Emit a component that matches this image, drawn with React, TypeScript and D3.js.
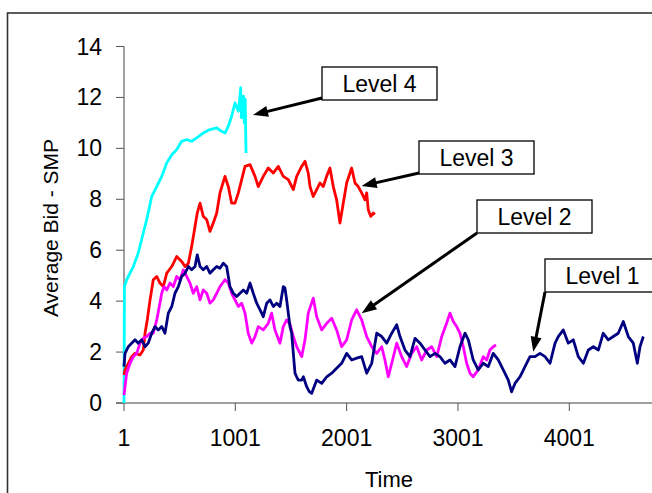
import React from 'react';
import * as d3 from 'd3';

// series: [time, average bid - SMP]
const level4: [number, number][] = [
  [1, 0], [5, 4.57], [25, 4.84], [55, 5.1], [85, 5.36], [129, 5.89], [174, 6.67], [205, 7.2], [250, 8.11],
  [295, 8.5], [340, 8.9], [385, 9.43], [430, 9.75], [474, 9.95], [519, 10.28], [564, 10.34], [609, 10.28],
  [654, 10.41], [713, 10.6], [773, 10.74], [834, 10.8], [878, 10.67], [908, 10.6], [938, 10.87], [968, 11.26],
  [998, 11.79], [1028, 11.46], [1040, 11.9], [1049, 12.38], [1056, 11.2], [1062, 12.0], [1067, 11.39],
  [1075, 12.05], [1082, 11.0], [1090, 11.92], [1097, 9.82],
];

const level3: [number, number][] = [
  [1, 1.1], [10, 1.3], [40, 1.56], [70, 1.82], [100, 1.95], [145, 1.89], [174, 2.08], [190, 2.74], [210, 3.26],
  [235, 4.05], [264, 4.84], [295, 4.97], [324, 4.71], [354, 4.57], [385, 5.1], [430, 5.36], [474, 5.75],
  [519, 5.56], [549, 5.36], [579, 5.49], [609, 6.15], [639, 6.93], [659, 7.46], [684, 7.85], [713, 7.33],
  [744, 7.2], [773, 6.74], [803, 7.07], [834, 7.46], [863, 8.25], [908, 8.9], [938, 8.5], [968, 7.85],
  [998, 7.85], [1028, 8.25], [1058, 8.77], [1088, 9.29], [1133, 9.36], [1178, 8.9], [1207, 8.5], [1252, 8.9],
  [1297, 9.23], [1342, 9.03], [1387, 9.29], [1432, 8.9], [1477, 8.77], [1522, 8.38], [1552, 8.9], [1597, 9.29],
  [1627, 9.49], [1656, 9.03], [1672, 8.5], [1701, 8.11], [1732, 8.38], [1761, 8.64], [1791, 8.5], [1821, 8.9],
  [1851, 9.23], [1881, 8.5], [1911, 7.98], [1941, 7.07], [1971, 7.85], [2001, 8.64], [2046, 9.23], [2076, 8.64],
  [2105, 8.5], [2136, 8.25], [2166, 7.98], [2181, 8.25], [2195, 7.59], [2217, 7.33], [2240, 7.46], [2255, 7.4],
];

const level2: [number, number][] = [
  [1, 0.31], [10, 0.64], [25, 1.17], [55, 1.56], [85, 1.82], [115, 1.95], [145, 2.35], [174, 2.54], [205, 2.61],
  [235, 2.74], [264, 2.74], [295, 3.26], [318, 3.79], [340, 4.31], [360, 4.57], [385, 4.44], [414, 4.71],
  [444, 4.57], [474, 4.97], [504, 4.84], [534, 5.23], [564, 4.97], [594, 4.71], [623, 4.31], [654, 4.57],
  [684, 4.05], [713, 4.44], [744, 4.31], [773, 3.92], [803, 4.05], [834, 4.31], [863, 4.57], [908, 4.84],
  [938, 4.71], [968, 4.31], [998, 4.05], [1028, 3.79], [1058, 3.92], [1088, 3.53], [1117, 2.74], [1148, 2.35],
  [1178, 2.61], [1207, 3.0], [1252, 2.87], [1297, 3.13], [1327, 3.53], [1357, 2.87], [1402, 2.35], [1432, 3.0],
  [1462, 3.26], [1492, 3.1], [1522, 2.61], [1552, 2.21], [1597, 1.82], [1627, 2.48], [1656, 3.53], [1701, 4.12],
  [1732, 3.39], [1777, 2.87], [1822, 3.13], [1867, 3.33], [1911, 2.87], [1956, 2.21], [2001, 2.48], [2046, 3.26],
  [2091, 3.66], [2136, 3.26], [2181, 2.61], [2226, 2.21], [2271, 1.95], [2316, 2.21], [2345, 1.69], [2375, 1.03],
  [2406, 1.56], [2451, 2.35], [2495, 1.82], [2540, 1.43], [2585, 1.95], [2630, 2.21], [2675, 1.69], [2720, 2.08],
  [2765, 2.21], [2810, 1.82], [2855, 2.61], [2899, 3.13], [2929, 3.53], [2959, 3.2], [2989, 3.0], [3019, 2.74],
  [3049, 2.21], [3079, 1.56], [3109, 1.17], [3138, 1.03], [3183, 1.3], [3228, 1.82], [3259, 1.69], [3288, 2.08],
  [3318, 2.21], [3342, 2.28],
];

const level1: [number, number][] = [
  [1, 1.43], [10, 1.95], [40, 2.21], [70, 2.35], [100, 2.48], [129, 2.35], [160, 2.48], [190, 2.21], [219, 2.35],
  [250, 2.74], [279, 3.0], [309, 2.87], [340, 3.0], [369, 2.74], [399, 3.53], [430, 3.79], [459, 4.31],
  [489, 4.57], [519, 4.97], [549, 5.1], [579, 5.36], [609, 5.23], [639, 5.36], [659, 5.82], [684, 5.36],
  [713, 5.23], [744, 5.36], [773, 5.1], [803, 5.23], [834, 5.36], [863, 5.29], [893, 5.49], [923, 5.36],
  [953, 4.57], [983, 4.31], [1013, 4.18], [1043, 4.31], [1073, 4.44], [1103, 4.31], [1133, 4.71], [1162, 4.31],
  [1193, 3.92], [1223, 3.66], [1252, 3.39], [1283, 3.92], [1312, 4.05], [1342, 3.79], [1373, 3.92], [1402, 3.79],
  [1432, 4.57], [1447, 4.51], [1462, 4.05], [1492, 3.0], [1507, 2.74], [1522, 1.95], [1537, 1.17], [1552, 1.03],
  [1567, 0.9], [1597, 0.9], [1612, 1.03], [1642, 0.64], [1665, 0.45], [1687, 0.38], [1732, 0.9], [1777, 0.77],
  [1822, 1.03], [1867, 1.17], [1911, 1.36], [1956, 1.56], [2001, 1.95], [2046, 1.69], [2091, 1.76], [2136, 1.82],
  [2181, 1.17], [2226, 1.56], [2271, 2.74], [2316, 2.61], [2361, 2.35], [2406, 2.74], [2451, 3.07], [2480, 2.61],
  [2525, 2.08], [2570, 1.82], [2615, 2.54], [2660, 2.35], [2705, 2.08], [2750, 1.82], [2795, 1.95], [2839, 1.82],
  [2884, 1.56], [2929, 1.69], [2974, 1.43], [3019, 2.21], [3064, 2.74], [3094, 2.48], [3138, 1.69], [3183, 1.3],
  [3228, 1.56], [3273, 1.43], [3318, 1.95], [3363, 1.69], [3408, 1.3], [3453, 0.9], [3483, 0.44], [3513, 0.77],
  [3558, 1.03], [3603, 1.43], [3648, 1.82], [3693, 1.82], [3738, 1.95], [3783, 1.82], [3828, 1.56], [3873, 2.35],
  [3902, 2.61], [3947, 2.87], [3992, 2.35], [4037, 2.48], [4082, 1.82], [4127, 1.56], [4172, 2.08], [4217, 2.21],
  [4262, 2.08], [4306, 2.74], [4351, 2.48], [4396, 2.61], [4441, 2.74], [4486, 3.2], [4531, 2.61], [4576, 2.35],
  [4612, 1.56], [4636, 2.21], [4666, 2.61],
];

const xTicks = [1, 1001, 2001, 3001, 4001];
const yTicks = [0, 2, 4, 6, 8, 10, 12, 14];

const seriesList = [
  { name: 'Level 4', data: level4, color: '#00FFFF' },
  { name: 'Level 3', data: level3, color: '#FF0000' },
  { name: 'Level 2', data: level2, color: '#FF00FF' },
  { name: 'Level 1', data: level1, color: '#000080' },
];

// callout boxes (pixels) and what each arrow points at (data units)
const callouts = [
  { label: 'Level 4', box: [322, 67], from: [322, 98], tip: [1160, 11.31] },
  { label: 'Level 3', box: [419, 141], from: [419, 173], tip: [2136, 8.52] },
  { label: 'Level 2', box: [477, 200], from: [477, 233], tip: [2136, 3.52] },
  { label: 'Level 1', box: [545, 259], from: [545, 292], tip: [3677, 2.01] },
];

const W = 652;
const H = 493;
const FONT = '"Liberation Sans", Arial, sans-serif';

export default function App() {
  const x = d3.scaleLinear().domain([1, 4001]).range([124, 569.3]);
  const y = d3.scaleLinear().domain([0, 14]).range([403, 46.5]);
  const line = d3.line<[number, number]>().x(d => x(d[0])).y(d => y(d[1]));

  const arrowHead = (fx: number, fy: number, tx: number, ty: number) => {
    const dx = tx - fx, dy = ty - fy;
    const len = Math.hypot(dx, dy);
    const ux = dx / len, uy = dy / len;
    const L = 15, hw = 5.5;
    const bx = tx - ux * L, by = ty - uy * L;
    return {
      end: [bx + ux * 2, by + uy * 2],
      pts: `${tx},${ty} ${bx - uy * hw},${by + ux * hw} ${bx + uy * hw},${by - ux * hw}`,
    };
  };

  return (
    <svg width={W} height={H} style={{ position: 'absolute', left: 0, top: 0, background: '#fff' }}
      fontFamily={FONT}>
      <rect x={7.5} y={13} width={W + 20} height={H + 20} fill="#fff" stroke="#333" strokeWidth={1.6} />

      {/* axes */}
      <line x1={124} x2={124} y1={y(14)} y2={y(0)} stroke="#808080" strokeWidth={1.5} />
      <line x1={116} x2={W + 5} y1={y(0)} y2={y(0)} stroke="#808080" strokeWidth={1.5} />
      {yTicks.map(t => (
        <g key={`y${t}`}>
          <line x1={116} x2={124} y1={y(t)} y2={y(t)} stroke="#555" strokeWidth={1} />
          <text x={102} y={y(t) + 8} fontSize={23} textAnchor="end" fill="#000">{t}</text>
        </g>
      ))}
      {xTicks.map(t => (
        <g key={`x${t}`}>
          <line x1={x(t)} x2={x(t)} y1={y(0)} y2={y(0) + 8} stroke="#555" strokeWidth={1} />
          <text x={x(t)} y={446} fontSize={23} textAnchor="middle" fill="#000">{t}</text>
        </g>
      ))}
      <text x={389} y={487} fontSize={22} textAnchor="middle">Time</text>
      <text transform="translate(58,228) rotate(-90)" fontSize={21} textAnchor="middle">Average Bid - SMP</text>

      {/* series */}
      {seriesList.map(s => (
        <path key={s.name} d={line(s.data) || ''} fill="none" stroke={s.color} strokeWidth={2.8}
          strokeLinejoin="round" />
      ))}

      {/* callouts */}
      {callouts.map(c => {
        const tx = x(c.tip[0]), ty = y(c.tip[1]);
        const a = arrowHead(c.from[0], c.from[1], tx, ty);
        return (
          <g key={c.label}>
            <line x1={c.from[0]} y1={c.from[1]} x2={a.end[0]} y2={a.end[1]} stroke="#000" strokeWidth={3} />
            <polygon points={a.pts} fill="#000" />
            <rect x={c.box[0]} y={c.box[1]} width={115} height={33} fill="#fff" stroke="#000" strokeWidth={1.3} />
            <text x={c.box[0] + 57.5} y={c.box[1] + 25} fontSize={23} textAnchor="middle">{c.label}</text>
          </g>
        );
      })}
    </svg>
  );
}
